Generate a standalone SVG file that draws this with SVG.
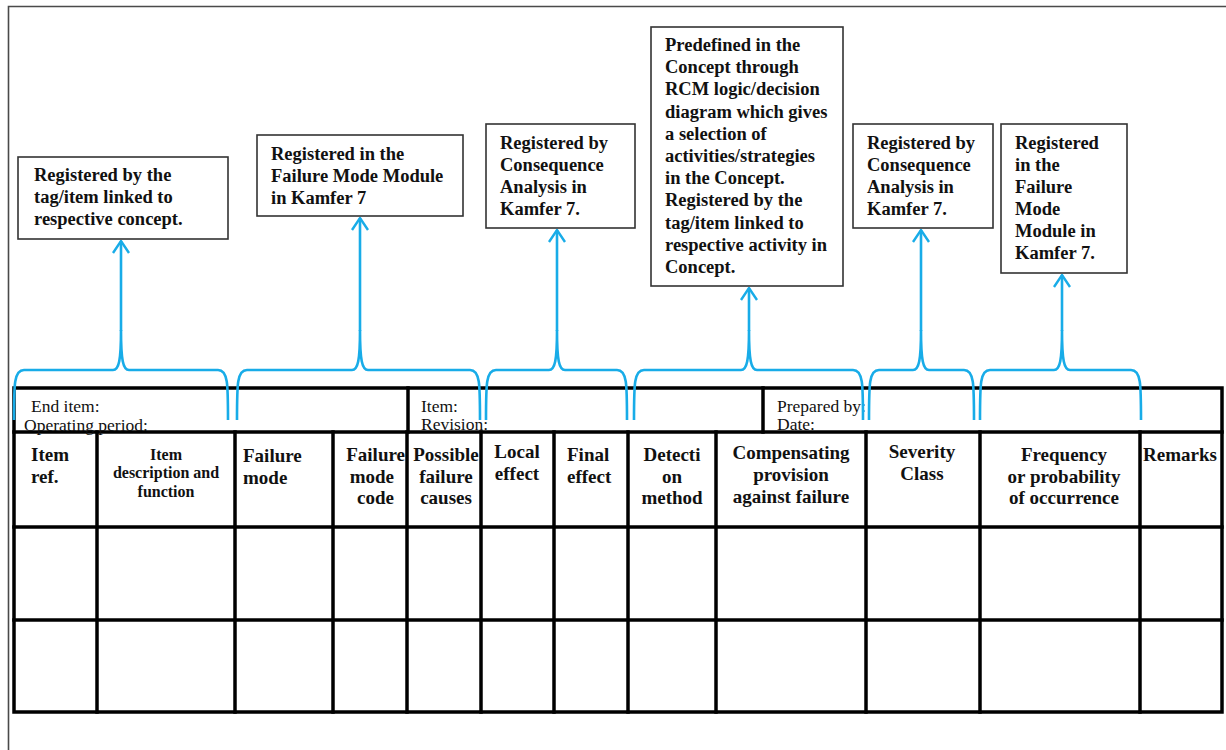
<svg xmlns="http://www.w3.org/2000/svg" width="1226" height="750" viewBox="0 0 1226 750">
  <defs>
    <marker id="open-arrow" viewBox="0 0 14 18" refX="13" refY="9" markerWidth="14" markerHeight="18" markerUnits="userSpaceOnUse" orient="auto">
      <path d="M1,1 L13,9 L1,17" fill="none" stroke="#18ace8" stroke-width="2.4"/>
    </marker>
    <style>
      .frame { fill: none; stroke: #4a4a4a; stroke-width: 1.6; }
      .box { fill: #fff; stroke: #333; stroke-width: 1.6; }
      .note { font-family: "Liberation Serif", "Times New Roman", serif; font-weight: bold; font-size: 18.5px; fill: #111; }
      .grid { fill: none; stroke: #000; stroke-width: 3.5; stroke-linecap: square; }
      .hdr { font-family: "Liberation Serif", "Times New Roman", serif; font-weight: bold; font-size: 19px; fill: #111; }
      .hdr-sm { font-family: "Liberation Serif", "Times New Roman", serif; font-weight: bold; font-size: 16px; fill: #111; }
      .meta { font-family: "Liberation Serif", "Times New Roman", serif; font-size: 17.5px; fill: #111; }
      .brace { fill: none; stroke: #18ace8; stroke-width: 2.6; stroke-linejoin: round; }
      .stem { fill: none; stroke: #18ace8; stroke-width: 2.6; }
    </style>
  </defs>

  <rect width="1226" height="750" fill="#fff"/>
  <!-- page frame -->
  <path class="frame" d="M8.5,750 L8.5,6.5 L1226,6.5"/>

  <!-- FMEA worksheet table -->
  <g id="worksheet">
    <rect class="grid" x="14" y="388" width="1208" height="324"/>
    <line class="grid" x1="14" y1="432" x2="1222" y2="432"/>
    <line class="grid" x1="14" y1="527" x2="1222" y2="527"/>
    <line class="grid" x1="14" y1="620" x2="1222" y2="620"/>
    <line class="grid" x1="408" y1="388" x2="408" y2="432"/>
    <line class="grid" x1="763" y1="388" x2="763" y2="432"/>
    <line class="grid" x1="97" y1="432" x2="97" y2="712"/>
    <line class="grid" x1="235" y1="432" x2="235" y2="712"/>
    <line class="grid" x1="333" y1="432" x2="333" y2="712"/>
    <line class="grid" x1="407" y1="432" x2="407" y2="712"/>
    <line class="grid" x1="481" y1="432" x2="481" y2="712"/>
    <line class="grid" x1="554" y1="432" x2="554" y2="712"/>
    <line class="grid" x1="628" y1="432" x2="628" y2="712"/>
    <line class="grid" x1="716" y1="432" x2="716" y2="712"/>
    <line class="grid" x1="866" y1="432" x2="866" y2="712"/>
    <line class="grid" x1="980" y1="432" x2="980" y2="712"/>
    <line class="grid" x1="1140" y1="432" x2="1140" y2="712"/>

    <!-- form fields -->
    <text class="meta" x="31" y="412">End item:</text>
    <text class="meta" x="24" y="431">Operating period:</text>
    <text class="meta" x="421" y="412">Item:</text>
    <text class="meta" x="421" y="430">Revision:</text>
    <text class="meta" x="777" y="412">Prepared by:</text>
    <text class="meta" x="777" y="430">Date:</text>

    <!-- column headings -->
    <text class="hdr" x="31" y="461">Item</text>
    <text class="hdr" x="31" y="483">ref.</text>
    <text class="hdr-sm" text-anchor="middle" x="166" y="460">Item</text>
    <text class="hdr-sm" text-anchor="middle" x="166" y="478">description and</text>
    <text class="hdr-sm" text-anchor="middle" x="166" y="497">function</text>
    <text class="hdr" x="243" y="462">Failure</text>
    <text class="hdr" x="243" y="484">mode</text>
    <text class="hdr" text-anchor="end" x="405" y="461">Failure</text>
    <text class="hdr" text-anchor="end" x="394" y="483">mode</text>
    <text class="hdr" text-anchor="end" x="394" y="504">code</text>
    <text class="hdr" text-anchor="middle" x="446" y="461">Possible</text>
    <text class="hdr" text-anchor="middle" x="446" y="483">failure</text>
    <text class="hdr" text-anchor="middle" x="446" y="504">causes</text>
    <text class="hdr" text-anchor="middle" x="517" y="458">Local</text>
    <text class="hdr" text-anchor="middle" x="517" y="480">effect</text>
    <text class="hdr" x="567" y="461">Final</text>
    <text class="hdr" x="567" y="483">effect</text>
    <text class="hdr" text-anchor="middle" x="672" y="461">Detecti</text>
    <text class="hdr" text-anchor="middle" x="672" y="483">on</text>
    <text class="hdr" text-anchor="middle" x="672" y="504">method</text>
    <text class="hdr" text-anchor="middle" x="791" y="459">Compensating</text>
    <text class="hdr" text-anchor="middle" x="791" y="481">provision</text>
    <text class="hdr" text-anchor="middle" x="791" y="503">against failure</text>
    <text class="hdr" text-anchor="middle" x="922" y="458">Severity</text>
    <text class="hdr" text-anchor="middle" x="922" y="480">Class</text>
    <text class="hdr" text-anchor="middle" x="1064" y="461">Frequency</text>
    <text class="hdr" text-anchor="middle" x="1064" y="483">or probability</text>
    <text class="hdr" text-anchor="middle" x="1064" y="504">of occurrence</text>
    <text class="hdr" x="1143" y="461">Remarks</text>
  </g>

  <!-- annotation boxes -->
  <g id="note-item">
    <rect class="box" x="18" y="157" width="210" height="82"/>
    <text class="note" x="34" y="181">Registered by the</text>
    <text class="note" x="34" y="203">tag/item linked to</text>
    <text class="note" x="34" y="225">respective concept.</text>
  </g>
  <g id="note-failure-mode">
    <rect class="box" x="257" y="135" width="206" height="81"/>
    <text class="note" x="271" y="160">Registered in the</text>
    <text class="note" x="271" y="182">Failure Mode Module</text>
    <text class="note" x="271" y="204">in Kamfer 7</text>
  </g>
  <g id="note-effects">
    <rect class="box" x="486" y="124" width="149" height="104"/>
    <text class="note" x="500" y="149">Registered by</text>
    <text class="note" x="500" y="171">Consequence</text>
    <text class="note" x="500" y="193">Analysis in</text>
    <text class="note" x="500" y="215">Kamfer 7.</text>
  </g>
  <g id="note-detection">
    <rect class="box" x="651" y="27" width="192" height="259"/>
    <text class="note" x="665" y="51">Predefined in the</text>
    <text class="note" x="665" y="73">Concept through</text>
    <text class="note" x="665" y="95">RCM logic/decision</text>
    <text class="note" x="665" y="118">diagram which gives</text>
    <text class="note" x="665" y="140">a selection of</text>
    <text class="note" x="665" y="162">activities/strategies</text>
    <text class="note" x="665" y="184">in the Concept.</text>
    <text class="note" x="665" y="206">Registered by the</text>
    <text class="note" x="665" y="229">tag/item linked to</text>
    <text class="note" x="665" y="251">respective activity in</text>
    <text class="note" x="665" y="273">Concept.</text>
  </g>
  <g id="note-severity">
    <rect class="box" x="853" y="124" width="140" height="104"/>
    <text class="note" x="867" y="149">Registered by</text>
    <text class="note" x="867" y="171">Consequence</text>
    <text class="note" x="867" y="193">Analysis in</text>
    <text class="note" x="867" y="215">Kamfer 7.</text>
  </g>
  <g id="note-frequency">
    <rect class="box" x="1001" y="124" width="126" height="149"/>
    <text class="note" x="1015" y="149">Registered</text>
    <text class="note" x="1015" y="171">in the</text>
    <text class="note" x="1015" y="193">Failure</text>
    <text class="note" x="1015" y="215">Mode</text>
    <text class="note" x="1015" y="237">Module in</text>
    <text class="note" x="1015" y="259">Kamfer 7.</text>
  </g>

  <!-- braces grouping columns, each with an arrow up to its note -->
  <g id="connectors">
    <path class="brace" d="M14,420 C14,384 14,370 24,370 L113,370 C119,370 121,360 121,330 M121,330 C121,360 123,370 129,370 L218,370 C228,370 228,384 228,420"/>
    <path class="stem" d="M121,331 L121,241" marker-end="url(#open-arrow)"/>

    <path class="brace" d="M237,420 C237,384 237,370 247,370 L352,370 C358,370 360,360 360,330 M360,330 C360,360 362,370 368,370 L470,370 C480,370 480,384 480,420"/>
    <path class="stem" d="M360,331 L360,218" marker-end="url(#open-arrow)"/>

    <path class="brace" d="M486,420 C486,384 486,370 496,370 L549,370 C555,370 557,360 557,330 M557,330 C557,360 559,370 565,370 L617,370 C627,370 627,384 627,420"/>
    <path class="stem" d="M557,331 L557,230" marker-end="url(#open-arrow)"/>

    <path class="brace" d="M634,420 C634,384 634,370 644,370 L741,370 C747,370 749,360 749,330 M749,330 C749,360 751,370 757,370 L853,370 C863,370 863,384 863,420"/>
    <path class="stem" d="M749,331 L749,288" marker-end="url(#open-arrow)"/>

    <path class="brace" d="M869,420 C869,384 869,370 879,370 L913,370 C919,370 921,360 921,330 M921,330 C921,360 923,370 929,370 L964,370 C974,370 974,384 974,420"/>
    <path class="stem" d="M921,331 L921,230" marker-end="url(#open-arrow)"/>

    <path class="brace" d="M980,420 C980,384 980,370 990,370 L1054,370 C1060,370 1062,360 1062,330 M1062,330 C1062,360 1064,370 1070,370 L1131,370 C1141,370 1141,384 1141,420"/>
    <path class="stem" d="M1062,331 L1062,275" marker-end="url(#open-arrow)"/>
  </g>
</svg>
